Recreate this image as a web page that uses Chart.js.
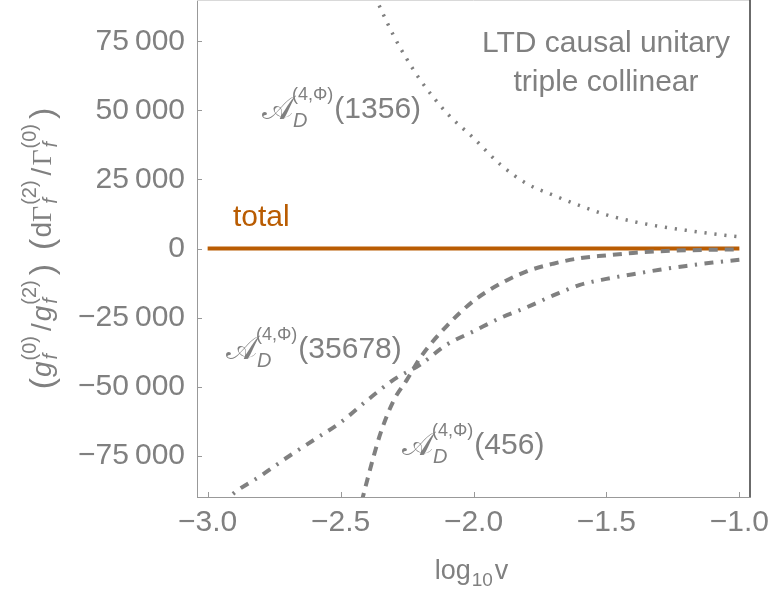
<!DOCTYPE html>
<html><head><meta charset="utf-8">
<script src="https://cdn.jsdelivr.net/npm/chart.js@4.4.0/dist/chart.umd.min.js"></script>
<style>html,body{margin:0;padding:0;background:#fff;overflow:hidden}#c{display:block}</style>
</head><body>
<canvas id="c" width="769" height="599"></canvas>
<script>
// ---- data ----
const xTotal = [-3.0, -2.5, -2.0, -1.5, -1.0];
const yTotal = [0, 0, 0, 0, 0];

const x1356 = [-2.40, -2.35, -2.30, -2.25, -2.20, -2.10, -2.00, -1.90, -1.80, -1.70, -1.60, -1.50, -1.40, -1.30, -1.20, -1.10, -1.00];
const y1356 = [98000, 87000, 77000, 68500, 61000, 49000, 40000, 30500, 23500, 19300, 15500, 12200, 9800, 8000, 6600, 5300, 4200];

const x35678 = [-2.95, -2.90, -2.80, -2.70, -2.60, -2.50, -2.40, -2.30, -2.20, -2.10, -2.00, -1.90, -1.80, -1.70, -1.60, -1.50, -1.40, -1.30, -1.20, -1.10, -1.00];
const y35678 = [-93000, -88500, -82300, -75600, -69300, -63000, -55000, -47500, -42000, -34800, -30000, -25200, -21300, -17000, -13200, -11000, -9300, -7700, -6300, -5100, -4100];

const x456 = [-2.45, -2.40, -2.35, -2.30, -2.25, -2.20, -2.10, -2.00, -1.90, -1.80, -1.70, -1.60, -1.50, -1.40, -1.30, -1.20, -1.10, -1.00];
const y456 = [-103000, -84000, -67000, -55000, -47500, -39500, -28000, -19000, -12800, -8300, -5500, -3500, -2500, -1600, -1000, -650, -450, -300];

const xTicks = [-3.0, -2.5, -2.0, -1.5, -1.0];
const yTicks = [-75000, -50000, -25000, 0, 25000, 50000, 75000];

// label anchors in data units
const labelAnchors = {
  l1356: [-2.7955, 47260],
  lTotal: [-2.9046, 8150],
  l35678: [-2.931, -39660],
  l456: [-2.269, -74400],
  title1: [-1.5016, 71170],
  title2: [-1.5016, 57040]
};

// ---- styles ----
const GRAY = '#808080';
const ORANGE = '#B95C02';
const SANS = "'Liberation Sans', Arial, Helvetica, sans-serif";
const SERIF = "'Liberation Serif', 'Times New Roman', serif";
const SCRIPT = "'DejaVu Sans', 'Noto Sans', sans-serif";
const FS = 30;

function pts(xs, ys) { return xs.map((x, i) => ({x: x, y: ys[i]})); }

function fmtY(v) {
  if (v === 0) return '0';
  const a = Math.abs(v);
  const s = String(a);
  const g = s.length > 3 ? s.slice(0, s.length - 3) + '\u2009' + s.slice(s.length - 3) : s;
  return (v < 0 ? '\u2212' : '') + g;
}
function fmtX(v) {
  const s = Math.abs(v).toFixed(1);
  return (v < 0 ? '\u2212' : '') + s;
}

function drawRich(ctx, x, y, parts, align) {
  const widths = parts.map(p => {
    if (p.stack) {
      const ws = p.stack.map(s => { ctx.font = s.f; return ctx.measureText(s.t).width + (s.dx || 0); });
      return Math.max.apply(null, ws) + (p.gap || 0);
    }
    ctx.font = p.f;
    return ctx.measureText(p.t).width + (p.gap || 0);
  });
  const total = widths.reduce((a, b) => a + b, 0);
  let cx = align === 'center' ? x - total / 2 : x;
  parts.forEach((p, i) => {
    if (p.stack) {
      p.stack.forEach(s => { ctx.font = s.f; ctx.fillText(s.t, cx + (s.dx || 0), y + (s.dy || 0)); });
    } else {
      ctx.font = p.f;
      ctx.fillText(p.t, cx + (p.dx || 0), y + (p.dy || 0));
    }
    cx += widths[i];
  });
  return total;
}

function aLabel(num) {
  return [
    {t: '\u{1D49C}', f: '33px ' + SCRIPT, dy: 1, gap: -1},
    {stack: [
      {t: '(4,\u03A6)', f: '18px ' + SANS, dy: -18},
      {t: 'D', f: 'italic 20px ' + SANS, dy: 9, dx: 1}
    ], gap: 1},
    {t: '(' + num + ')', f: FS + 'px ' + SANS}
  ];
}

const decorPlugin = {
  id: 'decor',
  afterDraw(chart) {
    const ctx = chart.ctx;
    const xs = chart.scales.x, ys = chart.scales.y;
    const ca = chart.chartArea;
    ctx.save();
    // frame top and right
    ctx.strokeStyle = '#d9d9d9';
    ctx.lineWidth = 1;
    ctx.beginPath(); ctx.moveTo(ca.left, ca.top + 0.5); ctx.lineTo(ca.right, ca.top + 0.5); ctx.stroke();
    ctx.strokeStyle = '#3a3a3a';
    ctx.lineWidth = 1.5;
    ctx.beginPath(); ctx.moveTo(ca.right, ca.top); ctx.lineTo(ca.right, ca.bottom); ctx.stroke();
    // inward ticks
    ctx.strokeStyle = '#999999';
    ctx.lineWidth = 1;
    xs.ticks.forEach(t => {
      const px = Math.round(xs.getPixelForValue(t.value)) + 0.5;
      ctx.beginPath(); ctx.moveTo(px, ca.bottom); ctx.lineTo(px, ca.bottom - 5); ctx.stroke();
    });
    ys.ticks.forEach(t => {
      const py = Math.round(ys.getPixelForValue(t.value)) + 0.5;
      ctx.beginPath(); ctx.moveTo(ca.left, py); ctx.lineTo(ca.left + 5, py); ctx.stroke();
    });

    ctx.textBaseline = 'alphabetic';
    ctx.textAlign = 'left';
    ctx.fillStyle = GRAY;
    const P = a => [xs.getPixelForValue(a[0]), ys.getPixelForValue(a[1])];

    // curve labels
    let p = P(labelAnchors.l1356); drawRich(ctx, p[0], p[1], aLabel('1356'));
    p = P(labelAnchors.l35678); drawRich(ctx, p[0], p[1], aLabel('35678'));
    p = P(labelAnchors.l456); drawRich(ctx, p[0], p[1], aLabel('456'));
    ctx.fillStyle = ORANGE;
    p = P(labelAnchors.lTotal); ctx.font = FS + 'px ' + SANS; ctx.fillText('total', p[0], p[1]);
    ctx.fillStyle = GRAY;
    ctx.textAlign = 'center';
    p = P(labelAnchors.title1); ctx.font = FS + 'px ' + SANS; ctx.fillText('LTD causal unitary', p[0], p[1]);
    p = P(labelAnchors.title2); ctx.fillText('triple collinear', p[0], p[1]);
    ctx.textAlign = 'left';

    // x axis title
    drawRich(ctx, (ca.left + ca.right) / 2 - 2, 579, [
      {t: 'log', f: '27px ' + SANS, gap: 1},
      {t: '10', f: '19px ' + SANS, dy: 7, gap: 2},
      {t: 'v', f: '27px ' + SANS}
    ], 'center');

    // y axis title (rotated)
    ctx.save();
    ctx.translate(51, (ca.top + ca.bottom) / 2);
    ctx.rotate(-Math.PI / 2);
    const M = '28px ' + SANS, MI = 'italic 28px ' + SANS, G = '28px ' + SERIF;
    const BP = '34px ' + SANS;
    const S = '20px ' + SANS, SI = 'italic 20px ' + SANS;
    const sup = (n) => ({stack: [{t: '(' + n + ')', f: S, dy: -15, dx: 1}, {t: 'f', f: SI, dy: 6, dx: 2}], gap: 5});
    drawRich(ctx, 0, 0, [
      {t: '(', f: BP, dy: 2, gap: 1},
      {t: 'g', f: MI},
      sup(0),
      {t: '/', f: M, gap: 2},
      {t: 'g', f: MI},
      sup(2),
      {t: ')', f: BP, dy: 2, gap: 14},
      {t: '(', f: BP, dy: 2, gap: 1},
      {t: 'd', f: M},
      {t: '\u0393', f: G},
      sup(2),
      {t: '/', f: M, gap: 2},
      {t: '\u0393', f: G},
      sup(0),
      {t: ')', f: BP, dy: 2}
    ], 'center');
    ctx.restore();
    ctx.restore();
  }
};

const chart = new Chart(document.getElementById('c'), {
  type: 'line',
  data: {
    datasets: [
      {label: 'total', data: pts(xTotal, yTotal), borderColor: ORANGE, borderWidth: 4, pointRadius: 0, order: 10, borderCapStyle: 'butt'},
      {label: '1356', data: pts(x1356, y1356), borderColor: GRAY, borderWidth: 3.5, borderDash: [2.2, 7.8], pointRadius: 0, cubicInterpolationMode: 'monotone', order: 1},
      {label: '35678', data: pts(x35678, y35678), borderColor: GRAY, borderWidth: 4, borderDash: [9, 7.5, 2.2, 7.5], pointRadius: 0, cubicInterpolationMode: 'monotone', order: 1},
      {label: '456', data: pts(x456, y456), borderColor: GRAY, borderWidth: 4, borderDash: [9, 7], pointRadius: 0, cubicInterpolationMode: 'monotone', order: 1}
    ]
  },
  options: {
    responsive: false,
    animation: false,
    devicePixelRatio: 1,
    layout: {padding: {left: 0, right: 19, top: 0, bottom: 0}},
    plugins: {legend: {display: false}, tooltip: {enabled: false}, title: {display: false}},
    scales: {
      x: {
        type: 'linear', min: -3.04, max: -0.96,
        afterBuildTicks: s => { s.ticks = xTicks.map(v => ({value: v})); },
        afterFit: s => { s.height = 102; s.paddingLeft = 0; s.paddingRight = 0; },
        grid: {display: false, drawTicks: false},
        border: {display: true, color: '#999999', width: 1},
        ticks: {color: GRAY, font: {family: SANS, size: FS}, padding: 8, maxRotation: 0, autoSkip: false, callback: v => fmtX(v)}
      },
      y: {
        type: 'linear', min: -90000, max: 90000,
        afterBuildTicks: s => { s.ticks = yTicks.map(v => ({value: v})); },
        afterFit: s => { s.width = 197; s.paddingTop = 0; s.paddingBottom = 0; },
        grid: {display: false, drawTicks: false},
        border: {display: true, color: '#999999', width: 1},
        ticks: {color: GRAY, font: {family: SANS, size: FS}, padding: 12, autoSkip: false, callback: v => fmtY(v)}
      }
    }
  },
  plugins: [decorPlugin]
});
</script>
</body></html>
